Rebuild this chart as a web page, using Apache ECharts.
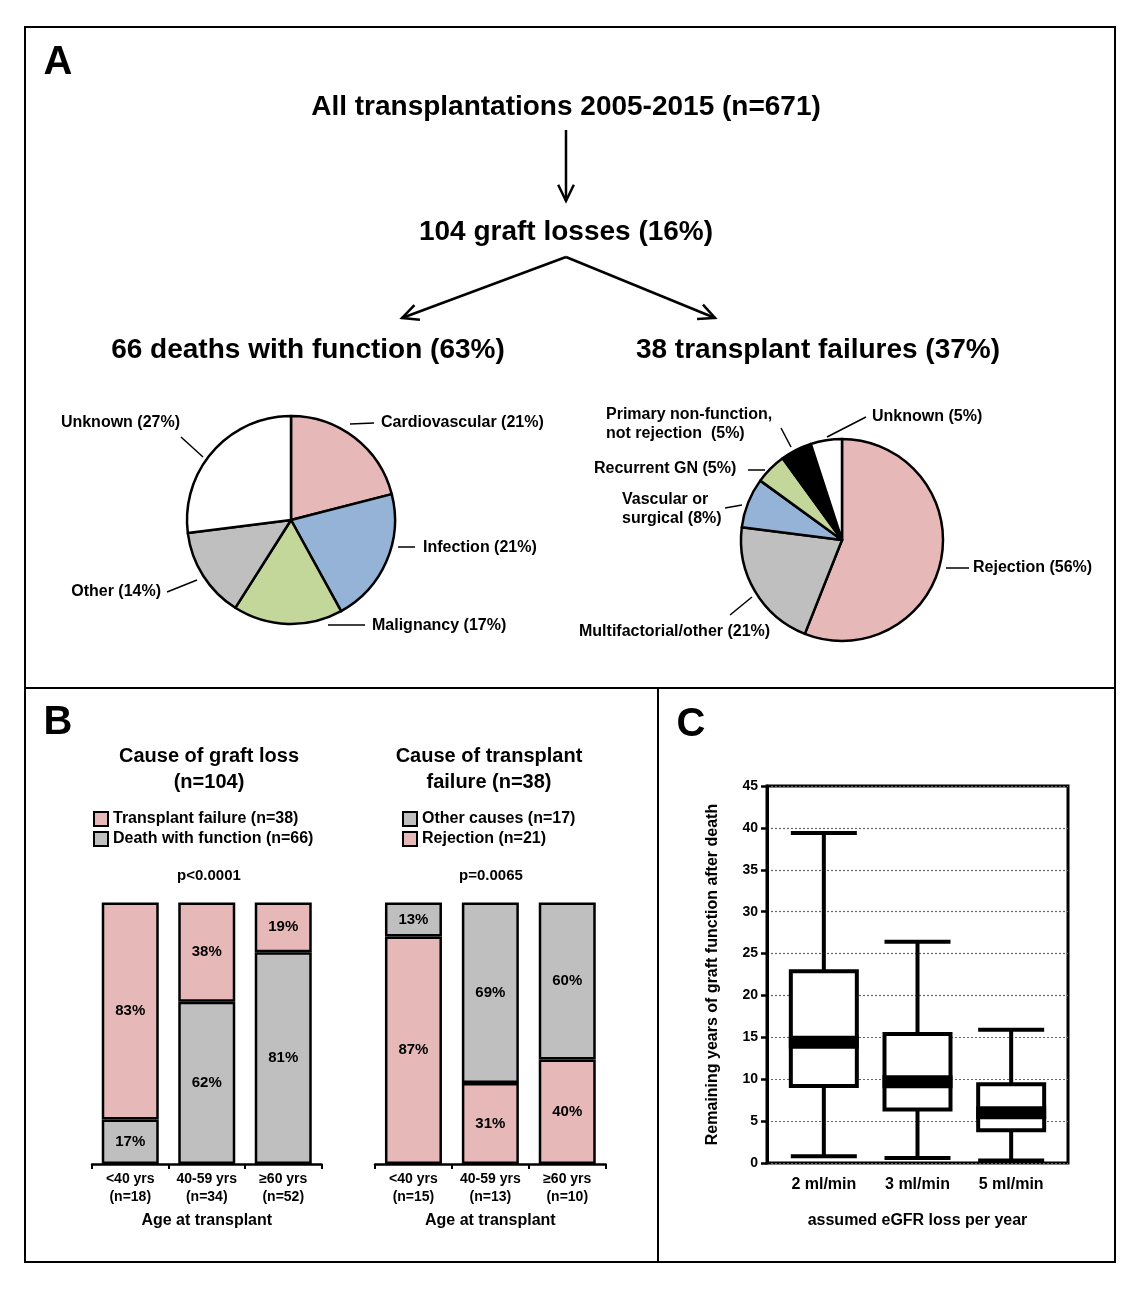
<!DOCTYPE html>
<html><head><meta charset="utf-8">
<script src="https://cdn.jsdelivr.net/npm/echarts@6/dist/echarts.min.js"></script>
<style>html,body{margin:0;padding:0;background:#fff}#c{width:1140px;height:1290px}</style>
</head><body><div id="c"></div>
<script>
const FONT = '"Liberation Sans", Arial, Helvetica, sans-serif';

// ---------- DATA ----------
// Panel A flowchart
const flowTop = 'All transplantations 2005-2015 (n=671)';
const flowMid = '104 graft losses (16%)';
const flowLeft = '66 deaths with function (63%)';
const flowRight = '38 transplant failures (37%)';

// Panel A left pie: causes of death with function (%)
const deathCauses = ['Cardiovascular', 'Infection', 'Malignancy', 'Other', 'Unknown'];
const deathPct = [21, 21, 17, 14, 27];

// Panel A right pie: causes of transplant failure (%)
const failCauses = ['Rejection', 'Multifactorial/other', 'Vascular or\nsurgical', 'Recurrent GN', 'Primary non-function,\nnot rejection ', 'Unknown'];
const failPct = [56, 21, 8, 5, 5, 5];

// Panel B left: cause of graft loss by age
const lossTitle = 'Cause of graft loss\n(n=104)';
const lossP = 'p<0.0001';
const lossAges = ['<40 yrs\n(n=18)', '40-59 yrs\n(n=34)', '≥60 yrs\n(n=52)'];
const lossFailureName = 'Transplant failure (n=38)';
const lossDeathName = 'Death with function (n=66)';
const lossFailurePct = [83, 38, 19];
const lossDeathPct = [17, 62, 81];

// Panel B right: cause of transplant failure by age
const failTitle = 'Cause of transplant\nfailure (n=38)';
const failP = 'p=0.0065';
const failAges = ['<40 yrs\n(n=15)', '40-59 yrs\n(n=13)', '≥60 yrs\n(n=10)'];
const failOtherName = 'Other causes (n=17)';
const failRejName = 'Rejection (n=21)';
const failRejPct = [87, 31, 40];
const failOtherPct = [13, 69, 60];
const ageAxisName = 'Age at transplant';

// Panel C: remaining years of graft function after death [min, Q1, median, Q3, max]
const eGFRLoss = ['2 ml/min', '3 ml/min', '5 ml/min'];
const remainingYears = [
  [0.8, 9.2, 14.4, 22.9, 39.4],
  [0.6, 6.4, 9.7, 15.4, 26.4],
  [0.3, 3.9, 6.0, 9.4, 15.9]
];
const cYName = 'Remaining years of graft function after death';
const cXName = 'assumed eGFR loss per year';

// ---------- STYLE / LAYOUT ----------
const PINK = '#e6b9b8', BLUE = '#95b3d7', GREEN = '#c4d79b', GRAY = '#bfbfbf';
const deathColors = [PINK, BLUE, GREEN, GRAY, '#ffffff'];
const failColors = [PINK, GRAY, BLUE, GREEN, '#000000', '#ffffff'];

const deathLabelPos = [
  {x: 381, y: 423, align: 'left', line: [[350, 424], [374, 423]]},
  {x: 423, y: 548, align: 'left', line: [[398, 547], [415, 547]]},
  {x: 372, y: 626, align: 'left', line: [[328, 625], [365, 625]]},
  {x: 161, y: 592, align: 'right', line: [[197, 580], [167, 592]]},
  {x: 180, y: 423, align: 'right', line: [[203, 457], [181, 437]]}
];
const failLabelPos = [
  {x: 973, y: 568, align: 'left', line: [[946, 568], [969, 568]]},
  {x: 579, y: 632, align: 'left', line: [[752, 597], [730, 615]]},
  {x: 622, y: 509, align: 'left', line: [[742, 505], [725, 508]]},
  {x: 594, y: 469, align: 'left', line: [[765, 470], [748, 470]]},
  {x: 606, y: 424, align: 'left', line: [[791, 447], [781, 428]]},
  {x: 872, y: 417, align: 'left', line: [[827, 437], [866, 417]]}
];

function layoutFrom(arr) {
  return function (p) {
    const L = arr[p.dataIndex];
    const a = L.line[0], b = L.line[1];
    return {x: L.x, y: L.y, align: L.align, verticalAlign: 'middle',
      labelLinePoints: [a, [(a[0] + b[0]) / 2, (a[1] + b[1]) / 2], b]};
  };
}

function txt(x, y, text, size, extra) {
  return Object.assign({type: 'text', x: x, y: y, silent: true,
    style: Object.assign({text: text, fontFamily: FONT, fontSize: size, fontWeight: 'bold', fill: '#000',
      align: 'center', verticalAlign: 'middle', textAlign: 'center', textVerticalAlign: 'middle'}, extra || {})});
}
function line(x1, y1, x2, y2, w) {
  return {type: 'line', silent: true, shape: {x1, y1, x2, y2}, style: {stroke: '#000', lineWidth: w || 2}};
}
function arrow(x1, y1, x2, y2) {
  const a = Math.atan2(y2 - y1, x2 - x1), L = 18, w = 0.45;
  return [
    line(x1, y1, x2, y2, 2.5),
    {type: 'polyline', silent: true, shape: {points: [
      [x2 - L * Math.cos(a - w), y2 - L * Math.sin(a - w)], [x2, y2],
      [x2 - L * Math.cos(a + w), y2 - L * Math.sin(a + w)]]},
     style: {stroke: '#000', lineWidth: 2.5, fill: null}}
  ];
}

const graphics = [
  {type: 'rect', silent: true, shape: {x: 25, y: 27, width: 1090, height: 1235}, style: {fill: null, stroke: '#000', lineWidth: 2}},
  line(25, 688, 1115, 688, 2),
  line(658, 688, 658, 1262, 2),
  txt(58, 63, 'A', 40),
  txt(58, 723, 'B', 40),
  txt(691, 725, 'C', 40),
  txt(566, 107, flowTop, 28),
  txt(566, 232, flowMid, 28),
  txt(308, 350, flowLeft, 28),
  txt(818, 350, flowRight, 28),
  ...arrow(566, 130, 566, 201),
  ...arrow(566, 257, 402, 318),
  ...arrow(566, 257, 715, 318),
  txt(209, 769, lossTitle, 20, {lineHeight: 26}),
  txt(489, 769, failTitle, 20, {lineHeight: 26}),
  txt(209, 876, lossP, 15),
  txt(491, 876, failP, 15)
];

const axisFont = {fontFamily: FONT, fontWeight: 'bold', color: '#000'};

function barX(gridIndex, data) {
  return {type: 'category', gridIndex, data,
    axisLine: {lineStyle: {color: '#000', width: 2.5}},
    axisTick: {show: true, length: 5, lineStyle: {color: '#000', width: 2}},
    axisLabel: Object.assign({fontSize: 14, lineHeight: 18, margin: 6, interval: 0}, axisFont),
    name: ageAxisName, nameLocation: 'middle', nameGap: 49,
    nameTextStyle: Object.assign({fontSize: 16}, axisFont)};
}
function barSeries(name, xi, stack, data, color) {
  return {type: 'bar', name, xAxisIndex: xi, yAxisIndex: xi, stack, data, barWidth: 57,
    itemStyle: {color, borderColor: '#000', borderWidth: 2.5},
    label: {show: true, position: 'inside', formatter: '{c}%', fontFamily: FONT, fontSize: 15, fontWeight: 'bold', color: '#000'},
    emphasis: {disabled: true}, silent: true};
}
function pieSeries(center, r, names, vals, colors, pos) {
  return {type: 'pie', center, radius: r, startAngle: 90, clockwise: true, avoidLabelOverlap: false,
    silent: true, emphasis: {disabled: true},
    data: names.map((n, i) => ({name: n, value: vals[i], itemStyle: {color: colors[i]}})),
    itemStyle: {borderColor: '#000', borderWidth: 2.5},
    label: {show: true, position: 'outside', formatter: p => p.name + ' (' + p.value + '%)',
      fontFamily: FONT, fontSize: 16, fontWeight: 'bold', color: '#000', lineHeight: 19},
    labelLine: {show: true, length: 8, length2: 8, lineStyle: {color: '#000', width: 1.5}},
    labelLayout: layoutFrom(pos)};
}
const legendBase = {orient: 'vertical', padding: 0, itemWidth: 14, itemHeight: 14, itemGap: 4, icon: 'rect',
  selectedMode: false, textStyle: {fontFamily: FONT, fontSize: 16, fontWeight: 'bold', color: '#000'},
  itemStyle: {borderColor: '#000', borderWidth: 2}};

const option = {
  animation: false,
  textStyle: {fontFamily: FONT},
  graphic: {elements: graphics},
  legend: [
    Object.assign({left: 93, top: 811, data: [lossFailureName, lossDeathName]}, legendBase),
    Object.assign({left: 402, top: 811, data: [failOtherName, failRejName]}, legendBase)
  ],
  grid: [
    {left: 92, top: 902.5, width: 229.5, height: 261.5, outerBoundsMode: 'none'},
    {left: 375, top: 902.5, width: 230.7, height: 261.5, outerBoundsMode: 'none'},
    {left: 767, top: 786, width: 301, height: 377, show: true, borderColor: '#000', borderWidth: 3, backgroundColor: 'transparent', outerBoundsMode: 'none'},
    {left: 777, top: 786, width: 281, height: 377, outerBoundsMode: 'none'}
  ],
  xAxis: [
    barX(0, lossAges),
    barX(1, failAges),
    {type: 'value', gridIndex: 2, min: 0, max: 1, show: false},
    {type: 'category', gridIndex: 3, data: eGFRLoss, axisLine: {show: false}, axisTick: {show: false},
      axisLabel: Object.assign({fontSize: 16, margin: 14, interval: 0}, axisFont),
      name: cXName, nameLocation: 'middle', nameGap: 50, nameTextStyle: Object.assign({fontSize: 16}, axisFont)}
  ],
  yAxis: [
    {type: 'value', gridIndex: 0, min: 0, max: 100, show: false},
    {type: 'value', gridIndex: 1, min: 0, max: 100, show: false},
    {type: 'value', gridIndex: 2, min: 0, max: 45, interval: 5,
      axisLine: {show: true, lineStyle: {color: '#000', width: 3}},
      axisTick: {show: true, length: 6, lineStyle: {color: '#000', width: 2.5}},
      axisLabel: Object.assign({fontSize: 14, margin: 9}, axisFont),
      splitLine: {show: true, lineStyle: {color: '#666', width: 1.2, type: [2, 2]}},
      name: cYName, nameLocation: 'middle', nameRotate: 90, nameGap: 46,
      nameTextStyle: Object.assign({fontSize: 16}, axisFont)},
    {type: 'value', gridIndex: 3, min: 0, max: 45, show: false}
  ],
  series: [
    pieSeries([291, 520], 104, deathCauses, deathPct, deathColors, deathLabelPos),
    pieSeries([842, 540], 101, failCauses, failPct, failColors, failLabelPos),
    barSeries(lossDeathName, 0, 'loss', lossDeathPct, GRAY),
    barSeries(lossFailureName, 0, 'loss', lossFailurePct, PINK),
    barSeries(failRejName, 1, 'fail', failRejPct, PINK),
    barSeries(failOtherName, 1, 'fail', failOtherPct, GRAY),
    {type: 'boxplot', xAxisIndex: 3, yAxisIndex: 3, data: remainingYears, boxWidth: [66, 66], z: 3,
      itemStyle: {color: '#fff', borderColor: '#000', borderWidth: 4}, silent: true, emphasis: {disabled: true}},
    {type: 'scatter', xAxisIndex: 3, yAxisIndex: 3, data: remainingYears.map(d => d[2]), symbol: 'rect',
      symbolSize: [70, 13], itemStyle: {color: '#000', opacity: 1}, z: 10, silent: true, emphasis: {disabled: true}}
  ]
};

const chart = echarts.init(document.getElementById('c'), null, {renderer: 'canvas'});
chart.setOption(option);
</script>
</body></html>
